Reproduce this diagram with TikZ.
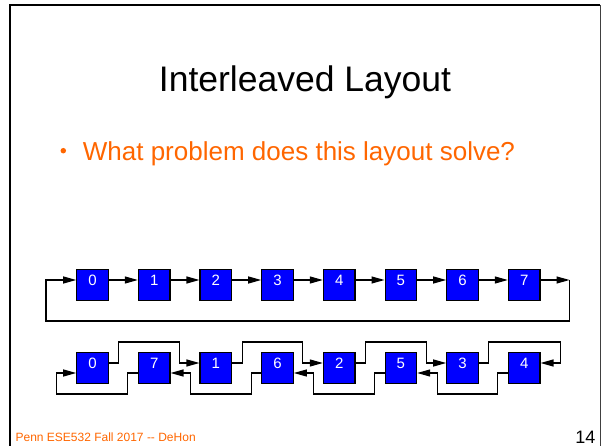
\documentclass[tikz,border=0pt]{standalone}
\usepackage{fontspec}
\setmainfont{Liberation Sans}
\usetikzlibrary{arrows.meta}
\definecolor{slideorange}{RGB}{255,102,0}
\definecolor{cellblue}{RGB}{0,0,255}
\begin{document}
\begin{tikzpicture}[x=1pt,y=-1pt,
  cell/.style={draw=black, line width=1.2pt, fill=cellblue,
    minimum width=31.5pt, minimum height=31.5pt, inner sep=0pt,
    text=white, font=\fontsize{15}{15}\selectfont,
    text height=11pt, text depth=9.2pt},
  wire/.style={line width=1.2pt},
  link/.style={wire, -{Triangle[length=13pt,width=7pt]}}]
\useasboundingbox (0,0) rectangle (602,446);

% slide frame
\draw[line width=2pt] (10,447) -- (10,5) -- (600,5);
\draw[line width=1pt, black!75] (600,5) -- (600,447);

% title, bullet and footer
\node[anchor=base, font=\fontsize{35.5}{40}\selectfont] (title) at (305,91.7) {Interleaved Layout};
\node[circle, fill=slideorange, inner sep=0pt, minimum size=5.5pt] (dot) at (63.3,150.7) {};
\node[anchor=base west, inner sep=0pt, text=slideorange, font=\fontsize{26}{30}\selectfont]
  (question) at (82.7,160.5) {What problem does this layout solve?};
\node[anchor=base west, inner sep=0pt, text=slideorange, font=\fontsize{12}{12}\selectfont]
  (footer) at (15.4,441) {Penn ESE532 Fall 2017 {-}{-} DeHon};
\node[anchor=base east, inner sep=0pt, font=\fontsize{18}{18}\selectfont] (page) at (595.5,443) {14};

% sequential layout
\foreach \i in {0,...,7}
  \node[cell] (t\i) at ({92.5+61.67*\i},285) {\i};
\foreach \i [evaluate=\i as \j using int(\i+1)] in {0,...,6}
  \draw[link] ([yshift=5pt]t\i.east) -- ([yshift=5pt]t\j.west);
\coordinate (tr) at (569.5,280);
\coordinate (tl) at (46,280);
\draw[link] ([yshift=5pt]t7.east) -- (tr);
\draw[link] (tr) -- ++(0,41) -| (tl) -- ([yshift=5pt]t0.west);

% interleaved layout
\foreach \lab [count=\k from 0] in {0,7,1,6,2,5,3,4}
  \node[cell] (b\lab) at ({92.5+61.67*\k},368) {\lab};

% forward links over the top
\foreach \a/\b in {0/1,1/2,2/3}
  \draw[link] ([yshift=5pt]b\a.east) -- ++(10,0) -- ++(0,-21)
    -| ([xshift=-20pt,yshift=5pt]b\b.west) -- ([yshift=5pt]b\b.west);
\draw[link] ([yshift=5pt]b3.east) -- ++(10,0) -- ++(0,-21)
  -| ([xshift=20pt,yshift=5pt]b4.east) -- ([yshift=5pt]b4.east);

% return links underneath
\foreach \a/\b in {4/5,5/6,6/7}
  \draw[link] ([yshift=-5pt]b\a.west) -- ++(-10,0) -- ++(0,21)
    -| ([xshift=20pt,yshift=-5pt]b\b.east) -- ([yshift=-5pt]b\b.east);
\draw[link] ([yshift=-5pt]b7.west) -- ++(-10,0) -- ++(0,21)
  -| ([xshift=-20pt,yshift=-5pt]b0.west) -- ([yshift=-5pt]b0.west);
\end{tikzpicture}
\end{document}
